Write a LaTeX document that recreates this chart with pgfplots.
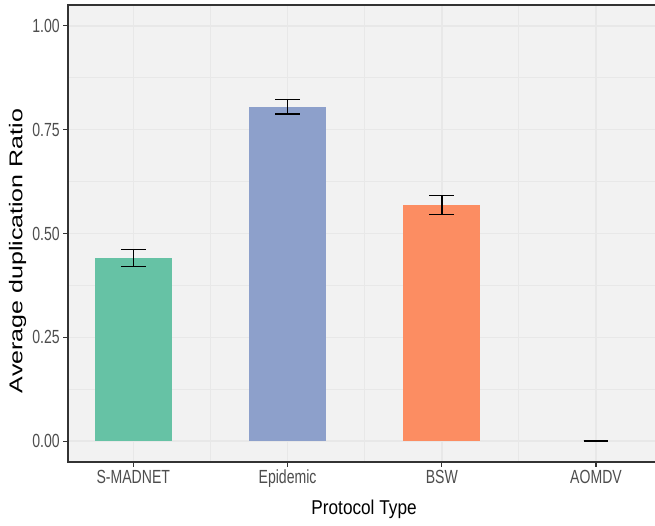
\documentclass[border=0pt]{standalone}
\usepackage{pgfplots}
\pgfplotsset{compat=1.18}
\usepackage{fontspec}
\setmainfont{Liberation Sans}
\newfontfamily\tickfont{Liberation Sans}[FakeStretch=0.74]
\newfontfamily\xtitlefont{Liberation Sans}[FakeStretch=0.86]
\newfontfamily\ytitlefont{Liberation Sans}[FakeStretch=1.35]
\definecolor{panelbg}{HTML}{F2F2F2}
\definecolor{gridc}{HTML}{E8E8E8}
\definecolor{axisc}{HTML}{333333}
\definecolor{tickc}{HTML}{4D4D4D}
\definecolor{c1}{HTML}{66C2A5}
\definecolor{c2}{HTML}{8DA0CB}
\definecolor{c3}{HTML}{FC8D62}
\pgfplotsset{errstyle/.style={
  error bars/.cd, y dir=both, y explicit,
  error bar style={black, line width=1.5pt},
  error mark options={black, line width=1.5pt, mark size=12.3pt, rotate=90}}}
\begin{document}
\begin{tikzpicture}
\useasboundingbox (0,0) rectangle (655pt,525pt);
\begin{axis}[
 at={(67.7pt,63pt)}, anchor=south west,
 scale only axis, width=593.9pt, height=457pt,
 xmin=0.5746, xmax=4.4254, ymin=-0.05, ymax=1.05,
 axis background/.style={fill=panelbg},
 axis line style={axisc, line width=1.6pt},
 xtick={1,2,3,4}, xticklabels={S-MADNET,Epidemic,BSW,AOMDV},
 ytick={0,0.25,0.5,0.75,1},
 minor xtick={1.5,2.5,3.5}, minor ytick={0.125,0.375,0.625,0.875},
 grid=both,
 major grid style={gridc, line width=1.5pt},
 minor grid style={gridc, line width=1.2pt},
 tick align=outside, xtick pos=bottom, ytick pos=left,
 major tick length=4.5pt, minor tick length=0pt,
 tick style={axisc, line width=1.1pt},
 /pgf/number format/assume math mode=true,
 yticklabel={\pgfmathprintnumber[fixed,fixed zerofill,precision=2]{\tick}},
 ticklabel style={font=\tickfont\fontsize{19}{21}\selectfont, text=tickc},
 xlabel={Protocol Type}, ylabel={Average duplication Ratio},
 xlabel style={font=\xtitlefont\fontsize{20}{22}\selectfont, at={(axis description cs:0.499,-0.1144)}, anchor=base, inner sep=0pt},
 ylabel style={font=\ytitlefont\fontsize{18.5}{20}\selectfont, at={(axis description cs:-0.0845,0.4617)}, anchor=center, inner sep=0pt},
 ybar, bar width=0.5,
]
\addplot[fill=c1, draw=none, bar shift=0pt, errstyle]
  coordinates {(1,0.441) +- (0,0.021)};
\addplot[fill=c2, draw=none, bar shift=0pt, errstyle]
  coordinates {(2,0.805) +- (0,0.0175)};
\addplot[fill=c3, draw=none, bar shift=0pt, errstyle]
  coordinates {(3,0.5685) +- (0,0.0225)};
\addplot[fill=none, draw=none, bar shift=0pt, errstyle]
  coordinates {(4,0) +- (0,0)};
\end{axis}
\end{tikzpicture}
\end{document}
